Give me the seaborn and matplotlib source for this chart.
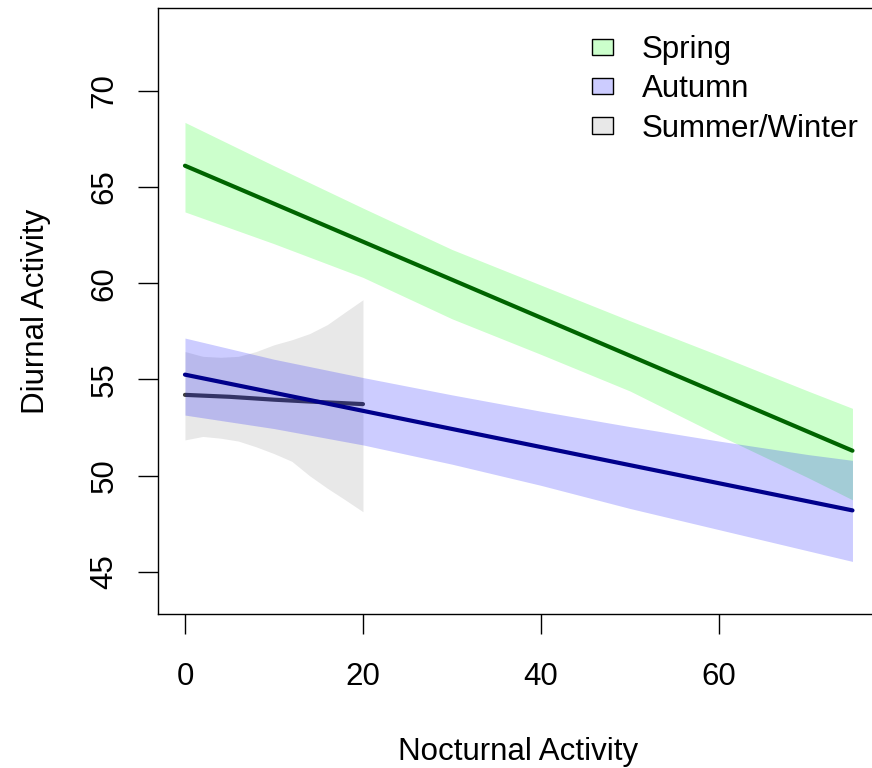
import matplotlib
matplotlib.use("Agg")
import matplotlib.pyplot as plt
from matplotlib.patches import Patch
import seaborn as sns
import pandas as pd

sns.set_style("white")
plt.rcParams["font.family"] = ["Liberation Sans", "DejaVu Sans"]
plt.rcParams["text.color"] = "black"
plt.rcParams["axes.labelcolor"] = "black"

# ---- data ----
seasons = ["Spring", "Autumn", "Summer/Winter"]

spring_line_x = [0, 75]
spring_line_y = [66.1, 51.3]
spring_band_x = [0, 10, 20, 30, 40, 50, 60, 70, 75]
spring_lower = [63.7, 62.05, 60.3, 58.15, 56.3, 54.4, 52.1, 49.9, 48.75]
spring_upper = [68.35, 66.1, 63.9, 61.75, 59.9, 58.05, 56.25, 54.4, 53.5]

autumn_line_x = [0, 75]
autumn_line_y = [55.25, 48.2]
autumn_band_x = [0, 10, 20, 30, 40, 50, 60, 70, 75]
autumn_lower = [53.15, 52.45, 51.6, 50.6, 49.5, 48.3, 47.2, 46.1, 45.55]
autumn_upper = [57.15, 56.05, 55.1, 54.2, 53.35, 52.55, 51.8, 51.1, 50.8]

sw_line_x = [0, 5, 10, 15, 20]
sw_line_y = [54.2, 54.1, 53.95, 53.83, 53.72]
sw_band_x = [0, 2, 4, 6, 8, 10, 12, 14, 16, 18, 20]
sw_lower = [51.86, 52.04, 51.95, 51.8, 51.5, 51.15, 50.75, 50.0, 49.35, 48.75, 48.13]
sw_upper = [56.45, 56.2, 56.15, 56.2, 56.45, 56.8, 57.06, 57.38, 57.85, 58.5, 59.14]

x_ticks = [0, 20, 40, 60]
y_ticks = [45, 50, 55, 60, 65, 70]

# ---- styles ----
band_colors = {"Spring": (0, 1, 0, 0.2), "Autumn": (0, 0, 1, 0.2),
               "Summer/Winter": (0.5, 0.5, 0.5, 0.18)}
line_colors = {"Spring": "#006400", "Autumn": "#00008B", "Summer/Winter": "#404040"}
band_z = {"Summer/Winter": 1, "Spring": 2, "Autumn": 3}
line_z = {"Summer/Winter": 1.5, "Spring": 4, "Autumn": 4.5}

lines = pd.concat([
    pd.DataFrame({"season": "Spring", "x": spring_line_x, "y": spring_line_y}),
    pd.DataFrame({"season": "Autumn", "x": autumn_line_x, "y": autumn_line_y}),
    pd.DataFrame({"season": "Summer/Winter", "x": sw_line_x, "y": sw_line_y}),
], ignore_index=True)

bands = {
    "Spring": (spring_band_x, spring_lower, spring_upper),
    "Autumn": (autumn_band_x, autumn_lower, autumn_upper),
    "Summer/Winter": (sw_band_x, sw_lower, sw_upper),
}

W, H = 872, 768
fig = plt.figure(figsize=(W / 100, H / 100), dpi=100)
ax = fig.add_axes([158 / W, (H - 614) / H, (879 - 158) / W, (614 - 8) / H])

for s in seasons:
    bx, lo, up = bands[s]
    ax.fill_between(bx, lo, up, color=band_colors[s], linewidth=0, zorder=band_z[s])

for s in seasons:
    sns.lineplot(data=lines[lines.season == s], x="x", y="y", estimator=None,
                 color=line_colors[s], lw=3, zorder=line_z[s],
                 solid_capstyle="round", ax=ax)

ax.set_xlim(-3.03, 77.98)
ax.set_ylim(42.82, 74.29)
ax.set_xticks(x_ticks)
ax.set_yticks(y_ticks)

fs = 22.5
ax.tick_params(axis="both", direction="out", length=14.4, width=1.0,
               labelsize=fs, color="black", labelcolor="black",
               bottom=True, left=True, top=False, right=False)
ax.tick_params(axis="x", pad=20.5)
ax.tick_params(axis="y", pad=13.5, labelrotation=90)
for lab in ax.get_yticklabels():
    lab.set_va("center")

for sp in ax.spines.values():
    sp.set_visible(True)
    sp.set_color("black")
    sp.set_linewidth(1.0)

ax.set_xlabel("Nocturnal Activity", fontsize=fs, color="black")
ax.set_ylabel("Diurnal Activity", fontsize=fs, color="black")
ax.xaxis.set_label_coords(0.5, (614 - 737) / 606)
ax.yaxis.set_label_coords(-(158 - 50.5) / 721, 0.5)

handles = [Patch(facecolor=band_colors[s], edgecolor="black", linewidth=1.0, label=s)
           for s in seasons]
leg = ax.legend(handles=handles, loc="upper left", frameon=False,
                bbox_to_anchor=(591.7 / W, 1 - 35 / H), bbox_transform=fig.transFigure,
                fontsize=fs, handlelength=0.69, handleheight=0.43, handletextpad=0.91,
                labelspacing=0.3, borderpad=0, borderaxespad=0)
for t in leg.get_texts():
    t.set_color("black")

fig.savefig("out.png", dpi=100)
